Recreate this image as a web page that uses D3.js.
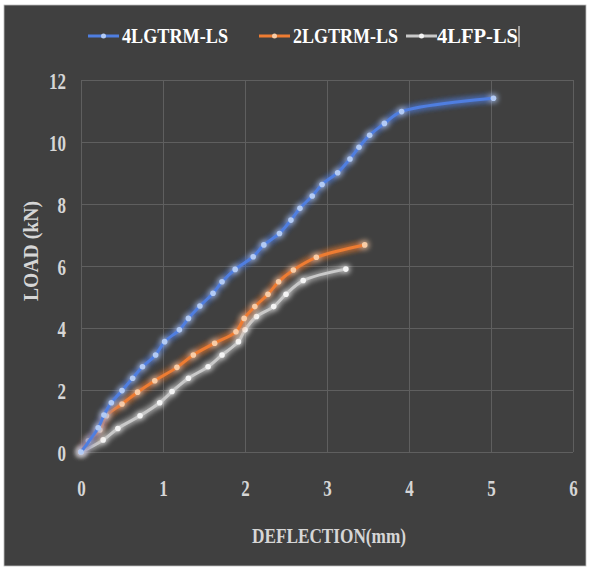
<!DOCTYPE html>
<html>
<head>
<meta charset="utf-8">
<script src="https://cdn.jsdelivr.net/npm/d3@7.9.0/dist/d3.min.js"></script>
<style>
  body { margin: 0; background: #fff; }
  text { font-family: "Liberation Serif", "Times New Roman", serif; font-weight: bold; }
</style>
</head>
<body>
<svg width="590" height="571"></svg>
<script>
// series names and values
const seriesNames = ['4LGTRM-LS', '2LGTRM-LS', '4LFP-LS'];

const deflection4LGTRM = [0, 0.21, 0.28, 0.37, 0.50, 0.63, 0.75, 0.91, 1.02, 1.20, 1.31, 1.45, 1.61, 1.72, 1.88, 2.10,
  2.23, 2.42, 2.56, 2.67, 2.82, 2.94, 3.13, 3.28, 3.39, 3.52, 3.70, 3.91, 5.03];
const load4LGTRM = [0, 0.78, 1.19, 1.59, 1.98, 2.38, 2.75, 3.13, 3.56, 3.94, 4.31, 4.71, 5.12, 5.49, 5.89, 6.30,
  6.68, 7.05, 7.48, 7.86, 8.26, 8.63, 9.01, 9.45, 9.83, 10.22, 10.60, 10.98, 11.41];

const deflection2LGTRM = [0, 0.09, 0.23, 0.31, 0.50, 0.69, 0.90, 1.17, 1.37, 1.63, 1.89, 1.99, 2.12, 2.28, 2.41, 2.59, 2.87, 3.46];
const load2LGTRM = [0, 0.36, 0.71, 1.17, 1.55, 1.93, 2.30, 2.73, 3.13, 3.51, 3.88, 4.31, 4.69, 5.09, 5.49, 5.87, 6.28, 6.68];

const deflection4LFP = [0, 0.27, 0.45, 0.72, 0.96, 1.11, 1.31, 1.55, 1.72, 1.92, 2.00, 2.14, 2.35, 2.50, 2.71, 3.23];
const load4LFP = [0, 0.39, 0.76, 1.17, 1.59, 1.95, 2.38, 2.75, 3.13, 3.56, 3.94, 4.37, 4.69, 5.09, 5.53, 5.90];

const xTicks = [0, 1, 2, 3, 4, 5, 6];
const yTicks = [0, 2, 4, 6, 8, 10, 12];

const series = [
  { name: seriesNames[0], xs: deflection4LGTRM, ys: load4LGTRM, color: '#4f7ee0', dot: '#b3cbf5' },
  { name: seriesNames[1], xs: deflection2LGTRM, ys: load2LGTRM, color: '#ee7c32', dot: '#f9cca6' },
  { name: seriesNames[2], xs: deflection4LFP, ys: load4LFP, color: '#c9c9c9', dot: '#f4f4f4' }
];

const svg = d3.select('svg');

// glow filter
const defs = svg.append('defs');
const glow = defs.append('filter').attr('id', 'glow')
  .attr('x', '-20%').attr('y', '-20%').attr('width', '140%').attr('height', '140%');
glow.append('feGaussianBlur').attr('in', 'SourceGraphic').attr('stdDeviation', 3).attr('result', 'blur');
const merge = glow.append('feMerge');
merge.append('feMergeNode').attr('in', 'blur');
merge.append('feMergeNode').attr('in', 'blur');
merge.append('feMergeNode').attr('in', 'SourceGraphic');

// dark panel
svg.append('rect').attr('x', 4).attr('y', 5).attr('width', 582).attr('height', 561)
  .attr('fill', '#404040').attr('stroke', '#bdbdbd').attr('stroke-width', 0.8);

const margin = { left: 81, top: 80, right: 573, bottom: 452 };
const x = d3.scaleLinear().domain([0, 6]).range([margin.left, margin.right]);
const y = d3.scaleLinear().domain([0, 12]).range([margin.bottom, margin.top]);

const gridColor = '#5f5f5f';
const labelColor = '#d6d6d6';
const fmt = d3.format('d');

// y axis + horizontal grid
const yAxis = svg.append('g')
  .attr('transform', `translate(${margin.left},0)`)
  .call(d3.axisLeft(y).tickValues(yTicks).tickFormat(fmt)
    .tickSize(-(margin.right - margin.left)).tickPadding(15));
yAxis.select('.domain').attr('stroke', gridColor);
yAxis.selectAll('.tick line').attr('stroke', gridColor);
yAxis.selectAll('.tick text')
  .attr('fill', labelColor).attr('font-size', 24).attr('dy', '0.34em')
  .attr('textLength', d => fmt(d).length * 8.5).attr('lengthAdjust', 'spacingAndGlyphs');

// x axis + vertical grid
const xAxis = svg.append('g')
  .attr('transform', `translate(0,${margin.bottom})`)
  .call(d3.axisBottom(x).tickValues(xTicks).tickFormat(fmt)
    .tickSize(-(margin.bottom - margin.top)));
xAxis.select('.domain').remove();
xAxis.selectAll('.tick line').attr('stroke', gridColor);
xAxis.selectAll('.tick text')
  .attr('fill', labelColor).attr('font-size', 24).attr('y', 44).attr('dy', 0)
  .attr('textLength', 8.5).attr('lengthAdjust', 'spacingAndGlyphs');

// axis titles
svg.append('text').attr('x', 329).attr('y', 543).attr('text-anchor', 'middle')
  .attr('fill', labelColor).attr('font-size', 21)
  .attr('textLength', 154).attr('lengthAdjust', 'spacingAndGlyphs')
  .text('DEFLECTION(mm)');

svg.append('text').attr('transform', 'translate(38,251) rotate(-90)').attr('text-anchor', 'middle')
  .attr('fill', labelColor).attr('font-size', 21)
  .attr('textLength', 100).attr('lengthAdjust', 'spacingAndGlyphs')
  .text('LOAD (kN)');

// lines
const line = d3.line()
  .x(d => x(d[0]))
  .y(d => y(d[1]))
  .curve(d3.curveCatmullRom.alpha(0.5));

series.slice().reverse().forEach(s => {
  const pts = s.xs.map((v, i) => [v, s.ys[i]]);
  const g = svg.append('g').attr('filter', 'url(#glow)');
  g.append('path').datum(pts)
    .attr('d', line)
    .attr('fill', 'none')
    .attr('stroke', s.color)
    .attr('stroke-width', 3)
    .attr('stroke-linejoin', 'round');
  g.selectAll('circle').data(pts).join('circle')
    .attr('cx', d => x(d[0]))
    .attr('cy', d => y(d[1]))
    .attr('r', 2.8)
    .attr('fill', s.dot);
});

// legend
const legendItems = [
  { lineX: 88, textX: 122, textW: 106 },
  { lineX: 259, textX: 293, textW: 105 },
  { lineX: 406, textX: 437, textW: 81 }
];
const legend = svg.append('g');
series.forEach((s, i) => {
  const it = legendItems[i];
  legend.append('line')
    .attr('x1', it.lineX).attr('x2', it.lineX + 31)
    .attr('y1', 36).attr('y2', 36)
    .attr('stroke', s.color).attr('stroke-width', 3);
  legend.append('circle').attr('cx', it.lineX + 15.5).attr('cy', 36).attr('r', 2.5).attr('fill', s.dot);
  legend.append('text')
    .attr('x', it.textX).attr('y', 43)
    .attr('fill', '#ffffff').attr('font-size', 22)
    .attr('textLength', it.textW).attr('lengthAdjust', 'spacingAndGlyphs')
    .text(s.name);
});
// text cursor after the last legend entry
legend.append('line').attr('x1', 519).attr('x2', 519).attr('y1', 26).attr('y2', 47)
  .attr('stroke', '#ffffff').attr('stroke-width', 1);
</script>
</body>
</html>
